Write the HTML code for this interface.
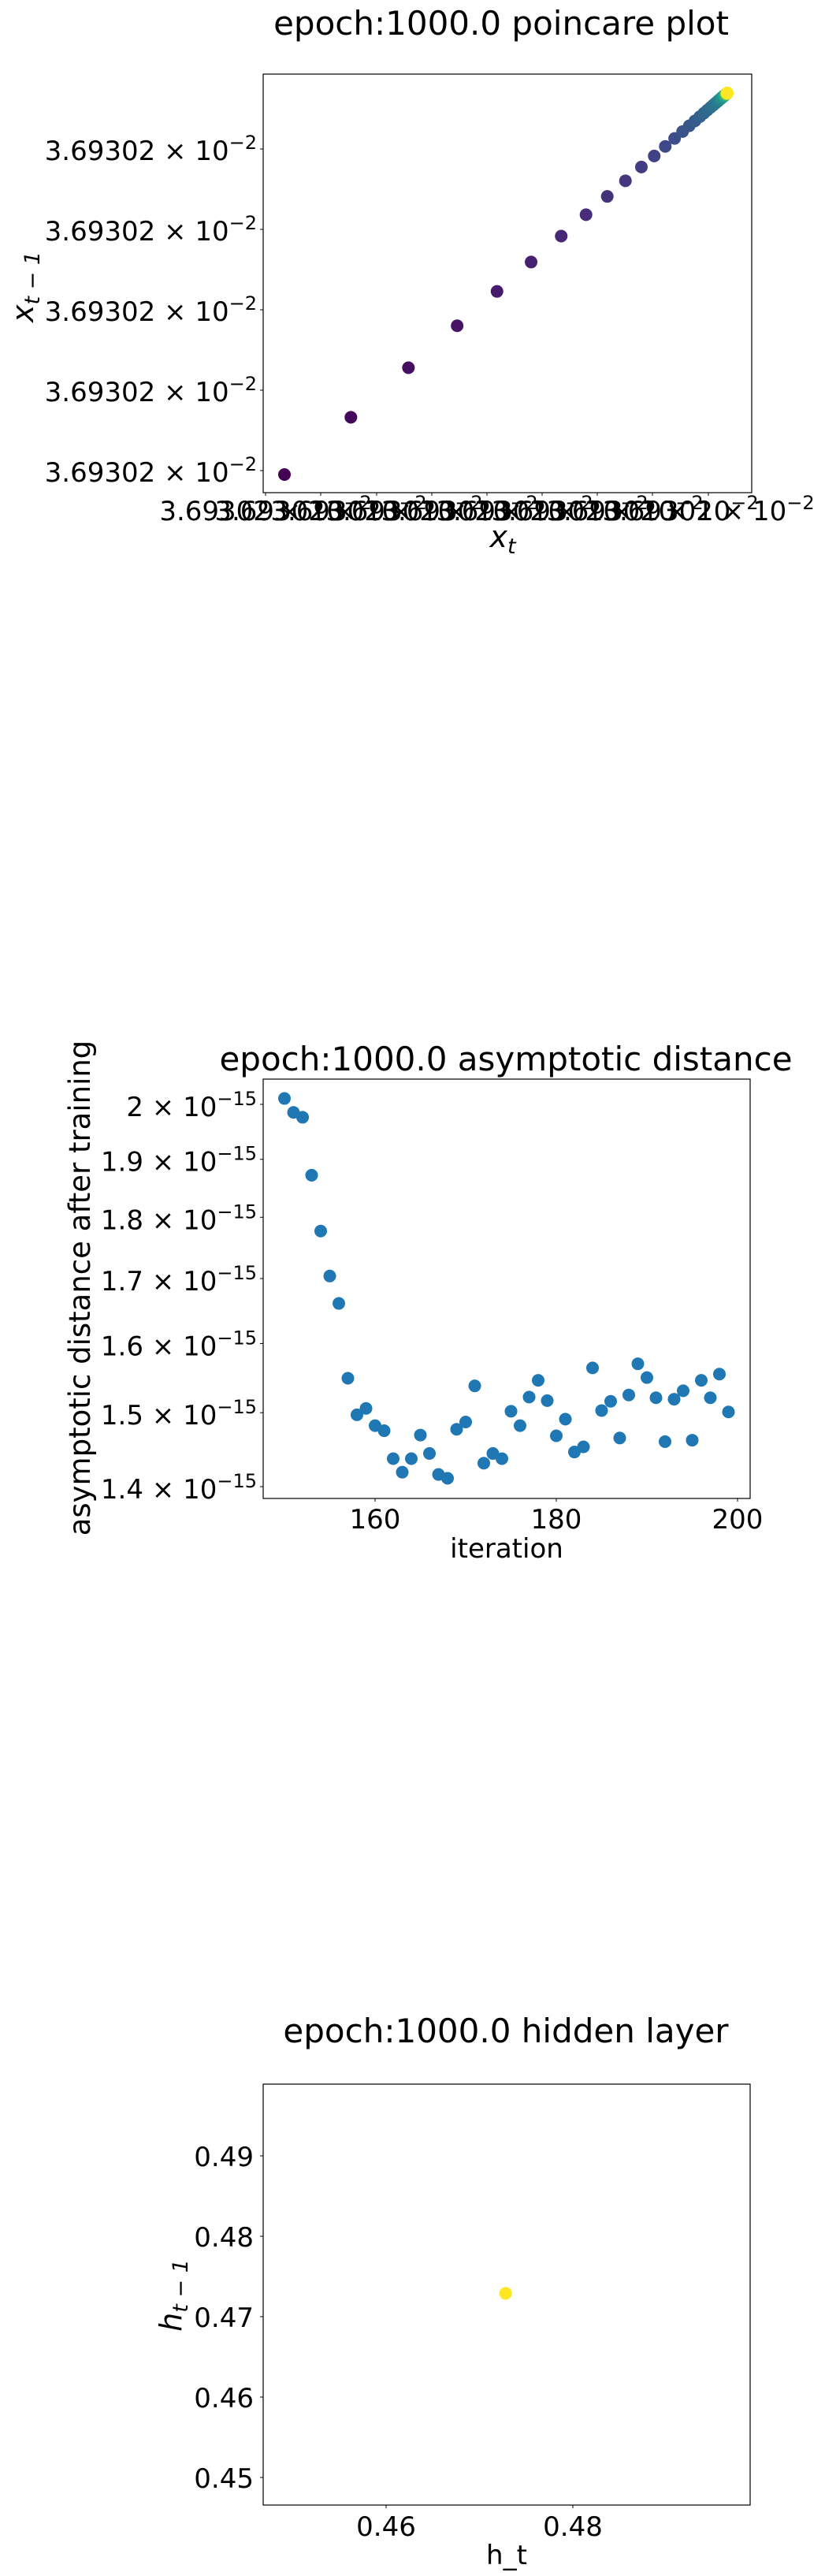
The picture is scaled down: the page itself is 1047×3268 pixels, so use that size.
<!DOCTYPE html>
<html><head><meta charset="utf-8"><style>
html,body{margin:0;padding:0;background:#fff;}
svg{display:block;}
text{font-family:"DejaVu Sans","Liberation Sans",sans-serif;fill:#000;}
</style></head><body>
<svg id="fig" width="1047" height="3268" viewBox="0 0 1047 3268" xmlns="http://www.w3.org/2000/svg">
<g id="p1"></g>
<g id="p2"></g>
<g id="p3"></g>
</svg>
<script>
// ---- Poincare plot data (relative offsets, 0 = first sample, 100 = fixed point) ----
const poincareX = [0,15,28,39,48,55.7,62.5,68.1,72.9,77,80.6,83.5,86,88.1,89.9,91.4,92.7,93.8,94.7,95.5,96.2,96.8,97.3,97.7,98.0,98.3,98.55,98.75,98.9,99.05,99.18,99.29,99.38,99.46,99.53,99.59,99.64,99.68,99.72,99.75,99.78,99.81,99.83,99.85,99.87,99.89,99.9,99.91,99.92,99.93,99.94,99.95,99.96,99.97,99.98,99.99,100];
const poincareY = [0,15,28,39,48,55.7,62.5,68.1,72.9,77,80.6,83.5,86,88.1,89.9,91.4,92.7,93.8,94.7,95.5,96.2,96.8,97.3,97.7,98.0,98.3,98.55,98.75,98.9,99.05,99.18,99.29,99.38,99.46,99.53,99.59,99.64,99.68,99.72,99.75,99.78,99.81,99.83,99.85,99.87,99.89,99.9,99.91,99.92,99.93,99.94,99.95,99.96,99.97,99.98,99.99,100];
const poincareTickLabel = "3.69302";
// ---- Asymptotic distance data ----
const iterations = [150,151,152,153,154,155,156,157,158,159,160,161,162,163,164,165,166,167,168,169,170,171,172,173,174,175,176,177,178,179,180,181,182,183,184,185,186,187,188,189,190,191,192,193,194,195,196,197,198,199];
const distances = [2.011,1.985,1.976,1.872,1.777,1.704,1.661,1.549,1.497,1.506,1.482,1.475,1.437,1.419,1.437,1.469,1.444,1.416,1.411,1.477,1.487,1.538,1.431,1.444,1.437,1.502,1.482,1.522,1.546,1.517,1.468,1.491,1.446,1.453,1.564,1.503,1.516,1.465,1.525,1.570,1.550,1.521,1.460,1.519,1.531,1.462,1.546,1.521,1.555,1.501];
const distTicks = [2.0,1.9,1.8,1.7,1.6,1.5,1.4];
const distTickLabels = ["2","1.9","1.8","1.7","1.6","1.5","1.4"];
const iterTicks = [160,180,200];
// ---- Hidden layer data ----
const hiddenX = [0.4728];
const hiddenY = [0.4729];
const hxTicks = [0.46,0.48];
const hyTicks = [0.45,0.46,0.47,0.48,0.49];

const NS="http://www.w3.org/2000/svg";
function mk(parent,tag,attrs,txt){const e=document.createElementNS(NS,tag);for(const k in attrs)e.setAttribute(k,attrs[k]);if(txt!==undefined)e.textContent=txt;parent.appendChild(e);return e;}
const VIR=[[68,1,84],[72,40,120],[62,74,137],[49,104,142],[38,130,142],[31,158,137],[53,183,121],[109,205,89],[180,222,44],[253,231,37]];
function viridis(t){t=Math.max(0,Math.min(1,t))*9;const i=Math.min(8,Math.floor(t)),f=t-i;const a=VIR[i],b=VIR[i+1];return `rgb(${a.map((v,k)=>Math.round(v+(b[k]-v)*f)).join(",")})`;}
function frame(g,x0,y0,x1,y1){const r=mk(g,'rect',{x:x0,y:y0,width:x1-x0,height:y1-y0,fill:'none',stroke:'#000','stroke-width':1.2});}
function sciLabel(g,x,y,mant,exp,anchor,name){const t=mk(g,'text',{x:x,y:y,'font-size':34,'text-anchor':anchor});mk(t,'tspan',{},mant+" × 10");mk(t,'tspan',{'font-size':24,dy:-14},"−"+exp);return t;}

// ===== Plot 1 =====
(function(){
const g=document.getElementById('p1');
const X0=334,X1=954,Y0=94,Y1=625;
const sx=v=>361+v*5.62, sy=v=>602-v*4.84;
let t=mk(g,'text',{x:636,y:44,'font-size':42,'text-anchor':'middle'},'epoch:1000.0 poincare plot');

frame(g,X0,Y0,X1,Y1);
[189,291,393,495,597].forEach(y=>{mk(g,'line',{x1:X0-4,x2:X0,y1:y,y2:y,stroke:'#000'});sciLabel(g,326,y+14,poincareTickLabel,"2",'end','y-tick-label');});
[337,407,478,548,618,688,758,828,899].forEach(x=>{mk(g,'line',{x1:x,x2:x,y1:Y1,y2:Y1+4,stroke:'#000'});sciLabel(g,x,660,poincareTickLabel,"2",'middle','x-tick-label');});
t=mk(g,'text',{x:0,y:0,'font-size':38,'font-style':'italic','text-anchor':'middle',transform:'translate(42,364) rotate(-90)'});

mk(t,'tspan',{},'x');mk(t,'tspan',{'font-size':27,dy:8},'t − 1');
t=mk(g,'text',{x:638,y:694,'font-size':38,'font-style':'italic','text-anchor':'middle'});

mk(t,'tspan',{},'x');mk(t,'tspan',{'font-size':27,dy:8},'t');
const N=poincareX.length;
for(let i=0;i<N;i++){const c=mk(g,'circle',{cx:sx(poincareX[i]),cy:sy(poincareY[i]),r:8,fill:viridis(i/(N-1))});
}
})();

// ===== Plot 2 =====
(function(){
const g=document.getElementById('p2');
const X0=334,X1=952,Y0=1369,Y1=1901;
const sx=v=>476+(v-160)*11.5;
const sy=v=>1401+(Math.log10(2)-Math.log10(v))*3131;
let t=mk(g,'text',{x:642,y:1358,'font-size':42,'text-anchor':'middle'},'epoch:1000.0 asymptotic distance');

frame(g,X0,Y0,X1,Y1);
distTicks.forEach((v,i)=>{const y=sy(v);mk(g,'line',{x1:X0-4,x2:X0,y1:y,y2:y,stroke:'#000'});sciLabel(g,326,y+15,distTickLabels[i],"15",'end','y-tick-label');});
iterTicks.forEach(v=>{const x=sx(v);mk(g,'line',{x1:x,x2:x,y1:Y1,y2:Y1+4,stroke:'#000'});
const l=mk(g,'text',{x:x,y:1939,'font-size':34,'text-anchor':'middle'},String(v));});
t=mk(g,'text',{x:0,y:0,'font-size':37,'text-anchor':'middle',transform:'translate(114,1634) rotate(-90)'},'asymptotic distance after training');

t=mk(g,'text',{x:643,y:1976,'font-size':34,'text-anchor':'middle'},'iteration');

iterations.forEach((it,i)=>{const c=mk(g,'circle',{cx:sx(it),cy:sy(distances[i]),r:8,fill:'#1f77b4'});
});
})();

// ===== Plot 3 =====
(function(){
const g=document.getElementById('p3');
const X0=334,X1=952,Y0=2644,Y1=3178;
const sx=v=>490+(v-0.46)*11850;
const sy=v=>2837-(v-0.48)*10200;
let t=mk(g,'text',{x:642,y:2591,'font-size':42,'text-anchor':'middle'},'epoch:1000.0 hidden layer');

frame(g,X0,Y0,X1,Y1);
hyTicks.forEach(v=>{const y=sy(v);mk(g,'line',{x1:X0-4,x2:X0,y1:y,y2:y,stroke:'#000'});
const l=mk(g,'text',{x:322,y:y+13,'font-size':34,'text-anchor':'end'},v.toFixed(2));});
hxTicks.forEach(v=>{const x=sx(v);mk(g,'line',{x1:x,x2:x,y1:Y1,y2:Y1+4,stroke:'#000'});
const l=mk(g,'text',{x:x,y:3217,'font-size':34,'text-anchor':'middle'},v.toFixed(2));});
t=mk(g,'text',{x:0,y:0,'font-size':38,'font-style':'italic','text-anchor':'middle',transform:'translate(230,2912) rotate(-90)'});

mk(t,'tspan',{},'h');mk(t,'tspan',{'font-size':27,dy:8},'t − 1');
t=mk(g,'text',{x:643,y:3253,'font-size':34,'text-anchor':'middle'},'h_t');

hiddenX.forEach((v,i)=>{const c=mk(g,'circle',{cx:sx(v),cy:sy(hiddenY[i]),r:8,fill:'#fde725'});
});
})();
</script>
</body></html>
